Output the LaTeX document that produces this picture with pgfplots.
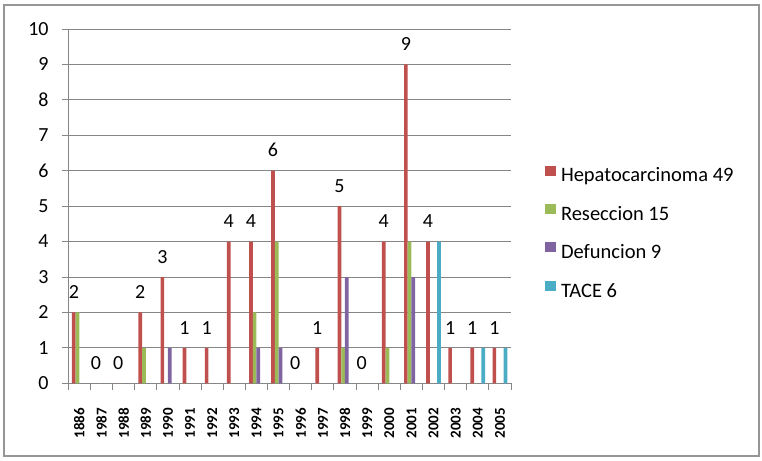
\documentclass[border=0pt]{standalone}
\usepackage{fontspec}
\setmainfont{Carlito}
\usepackage{pgfplots}
\pgfplotsset{compat=1.18}

\definecolor{hepred}{RGB}{192,80,77}
\definecolor{resgreen}{RGB}{155,187,89}
\definecolor{defpurple}{RGB}{128,100,162}
\definecolor{tacecyan}{RGB}{75,172,198}
\definecolor{gridgray}{RGB}{134,134,134}
\definecolor{framegray}{RGB}{150,150,150}

\begin{document}
\begin{tikzpicture}
\useasboundingbox (0pt,0pt) rectangle (762pt,460pt);
\draw[framegray, line width=1.2pt] (4pt,4pt) rectangle (759pt,455pt);
\begin{axis}[
  at={(68.3pt,76.7pt)}, anchor=south west,
  scale only axis, width=442.7pt, height=354.3pt,
  ybar=0pt, bar width=0.167,
  xmin=-0.5, xmax=19.5, ymin=0, ymax=10,
  axis x line*=bottom, axis y line*=left,
  axis line style={gridgray, line width=0.9pt, -},
  ymajorgrids, major grid style={gridgray, line width=0.9pt},
  ytick={0,...,10},
  tick align=outside,
  tick style={gridgray, line width=0.9pt},
  major tick length=6.5pt,
  xtick={-0.5,0.5,...,19.5},
  x tick label as interval,
  xticklabels={1886,1987,1988,1989,1990,1991,1992,1993,1994,1995,1996,1997,1998,1999,2000,2001,2002,2003,2004,2005},
  xticklabel style={yshift=-18pt, rotate=90, anchor=east, inner sep=0pt,
    font=\fontsize{15}{18}\selectfont\bfseries},
  yticklabel style={xshift=-13pt, anchor=east, inner sep=0pt, font=\fontsize{20}{24}\selectfont},
  /pgf/number format/assume math mode=true,
  legend style={at={(1.0768,0.6142)}, anchor=north west, draw=none, fill=none,
    inner sep=0pt, outer sep=0pt, row sep=18.2pt, column sep=5.5pt,
    font=\fontsize{20.5}{24}\selectfont,
    nodes={inner sep=0pt, text height=15pt, text depth=4pt}},
  legend cell align=left,
  legend image code/.code={\fill[#1] (0pt,0.7pt) rectangle (10.5pt,10.7pt);},
]
\addplot[fill=hepred, draw=none,
  nodes near coords,
  every node near coord/.append style={anchor=south, inner sep=0pt, yshift=13.5pt,
    text=black, font=\fontsize{20}{24}\selectfont}]
  coordinates {(0,2) (1,0) (2,0) (3,2) (4,3) (5,1) (6,1) (7,4) (8,4) (9,6)
               (10,0) (11,1) (12,5) (13,0) (14,4) (15,9) (16,4) (17,1) (18,1) (19,1)};
\addlegendentry{Hepatocarcinoma 49}
\addplot[fill=resgreen, draw=none]
  coordinates {(0,2) (1,0) (2,0) (3,1) (4,0) (5,0) (6,0) (7,0) (8,2) (9,4)
               (10,0) (11,0) (12,1) (13,0) (14,1) (15,4) (16,0) (17,0) (18,0) (19,0)};
\addlegendentry{Reseccion 15}
\addplot[fill=defpurple, draw=none]
  coordinates {(0,0) (1,0) (2,0) (3,0) (4,1) (5,0) (6,0) (7,0) (8,1) (9,1)
               (10,0) (11,0) (12,3) (13,0) (14,0) (15,3) (16,0) (17,0) (18,0) (19,0)};
\addlegendentry{Defuncion 9}
\addplot[fill=tacecyan, draw=none]
  coordinates {(0,0) (1,0) (2,0) (3,0) (4,0) (5,0) (6,0) (7,0) (8,0) (9,0)
               (10,0) (11,0) (12,0) (13,0) (14,0) (15,0) (16,4) (17,0) (18,1) (19,1)};
\addlegendentry{TACE 6}
\end{axis}
\end{tikzpicture}
\end{document}
